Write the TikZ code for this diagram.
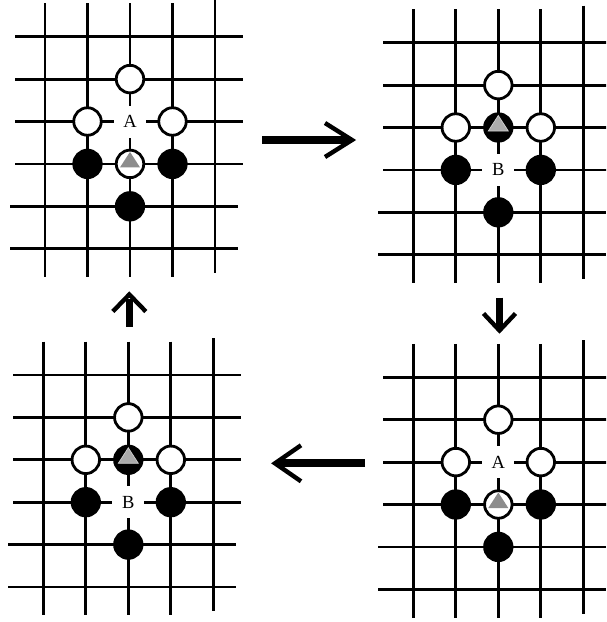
\documentclass[tikz,border=0pt]{standalone}
\usepackage{fontspec}
\setmainfont{Liberation Serif}
\usetikzlibrary{calc}
\tikzset{
  gridline/.style={line width=2.8pt},
  wstone/.style={circle,draw=black,fill=white,line width=2.8pt,minimum size=27.5pt,inner sep=0pt},
  bstone/.style={wstone,fill=black},
  lbl/.style={fill=white,minimum width=32pt,minimum height=32pt,inner sep=0pt,font=\fontsize{18.5}{20}\selectfont},
  trionw/.style={fill=black!45},
  trionb/.style={fill=black!33,draw=black!18,line width=0.7pt},
  shaft/.style={line width=8pt},
  vshaft/.style={line width=7pt},
  barb/.style={line width=4.4pt,line join=miter},
}
\newcommand\goboard[2]{%
  \begin{scope}[shift={(#1,#2)}]
    \foreach \i in {0,1,2,3} \draw[gridline] (\i*42.5,-33.4) -- (\i*42.5,240.3);
    \draw[gridline] (170,-37) -- (170,236.3);
    \foreach \j in {0,1,2,3} \draw[gridline] (-30,\j*42.4) -- (198,\j*42.4);
    \foreach \j in {4,5} \draw[gridline] (-35,\j*42.4) -- (193,\j*42.4);
  \end{scope}}
\newcommand\trimark[2]{\path[#2] ($(#1)+(0,-12)$) -- ($(#1)+(10,3.5)$) -- ($(#1)+(-10,3.5)$) -- cycle;}
% position with A (white marked stone below A)
\newcommand\posA[3]{%
  \begin{scope}[shift={(#2,#3)}]
    \node[wstone] (#1w1) at (85,42.4) {};
    \node[wstone] (#1w2) at (42.5,84.8) {};
    \node[lbl] (#1lab) at (85,84.8) {A};
    \node[wstone] (#1w3) at (127.5,84.8) {};
    \node[bstone] (#1b1) at (42.5,127.2) {};
    \node[wstone] (#1t) at (85,127.2) {};
    \node[bstone] (#1b2) at (127.5,127.2) {};
    \node[bstone] (#1b3) at (85,169.6) {};
  \end{scope}
  \trimark{#1t}{trionw}}
% position with B (black marked stone above B)
\newcommand\posB[3]{%
  \begin{scope}[shift={(#2,#3)}]
    \node[wstone] (#1w1) at (85,42.4) {};
    \node[wstone] (#1w2) at (42.5,84.8) {};
    \node[bstone] (#1t) at (85,84.8) {};
    \node[wstone] (#1w3) at (127.5,84.8) {};
    \node[bstone] (#1b1) at (42.5,127.2) {};
    \node[lbl] (#1lab) at (85,127.2) {B};
    \node[bstone] (#1b2) at (127.5,127.2) {};
    \node[bstone] (#1b3) at (85,169.6) {};
  \end{scope}
  \trimark{#1t}{trionb}}
\begin{document}
\begin{tikzpicture}[x=1pt,y=-1pt]
  \useasboundingbox (0,0) rectangle (606,622);
  \clip (0,0) rectangle (606,622);
  % boards
  \goboard{45}{36.7}
  \goboard{413.3}{42.7}
  \goboard{43.3}{375}
  \goboard{413.3}{377.3}
  \posA{p}{45}{36.7}
  \posB{q}{413.3}{42.7}
  \posB{r}{43.3}{375}
  \posA{s}{413.3}{377.3}
  % arrows
  \coordinate (ra1) at (262,140);
  \coordinate (ra2) at (352,140);
  \draw[shaft,shorten >=4pt] (ra1) -- (ra2);
  \draw[barb] ($(ra2)+(-27,-17)$) -- (ra2) -- ($(ra2)+(-27,17)$);
  \coordinate (da1) at (499.5,297.5);
  \coordinate (da2) at (499.5,330.5);
  \draw[vshaft,shorten >=4pt] (da1) -- (da2);
  \draw[barb] ($(da2)+(-16,-17)$) -- (da2) -- ($(da2)+(16,-17)$);
  \coordinate (la1) at (365,463.3);
  \coordinate (la2) at (275,463.3);
  \draw[shaft,shorten >=4pt] (la1) -- (la2);
  \draw[barb] ($(la2)+(26,-18)$) -- (la2) -- ($(la2)+(26,18)$);
  \coordinate (ua1) at (129.3,326.7);
  \coordinate (ua2) at (129.3,294.5);
  \draw[vshaft,shorten >=4pt] (ua1) -- (ua2);
  \draw[barb] ($(ua2)+(-16.5,17)$) -- (ua2) -- ($(ua2)+(16.5,17)$);
\end{tikzpicture}
\end{document}
